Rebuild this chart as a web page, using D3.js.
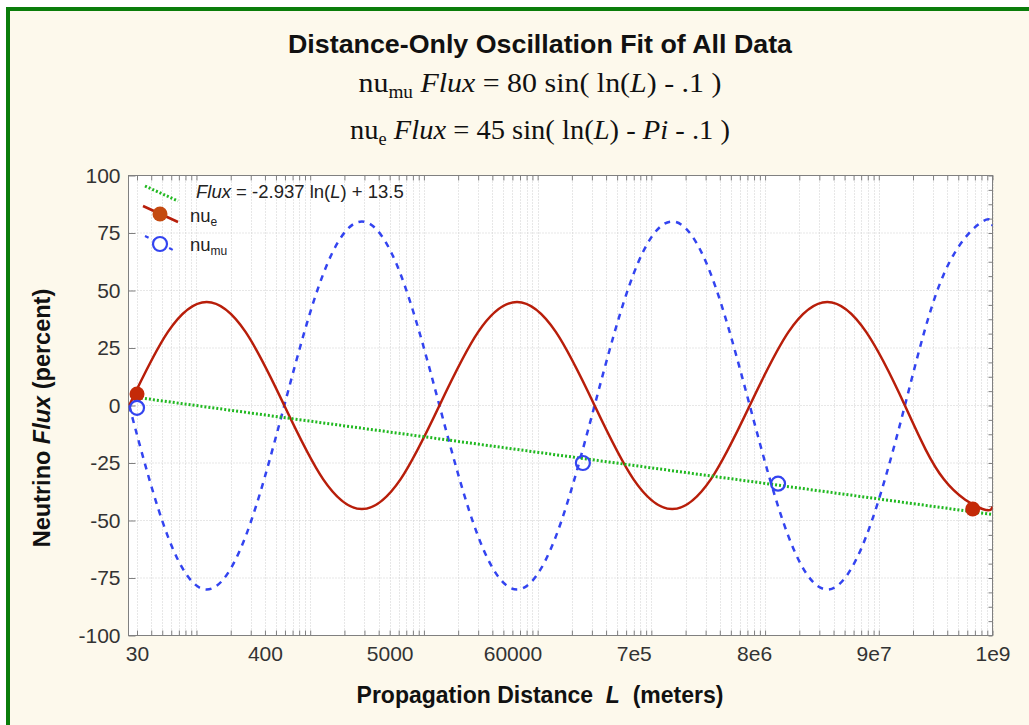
<!DOCTYPE html>
<html><head><meta charset="utf-8">
<script src="https://cdn.jsdelivr.net/npm/d3@7"></script>
<style>body{margin:0;background:#fff}</style></head><body>
<svg id="c" width="1029" height="725"></svg>
<script>
// ---- data ----
const xTickValues = [30, 400, 5000, 60000, 7e5, 8e6, 9e7, 1e9];
const xTickLabels = ["30", "400", "5000", "60000", "7e5", "8e6", "9e7", "1e9"];
const yTickValues = [-100, -75, -50, -25, 0, 25, 50, 75, 100];
// sampled fitted-curve points (distance L in meters)
const curveL = [25.6, 56.1, 123, 270, 592, 1298, 2847, 6244, 13695, 30037, 65880, 144494,
  316915, 695084, 1524510, 3343680, 7333650, 16084750, 35278000, 77375000, 169700000,
  372200000, 816300000, 1e9];
const nuMuCurve = [0, -57, -80, -57, 0, 57, 80, 57, 0, -57, -80, -57, 0, 57, 80, 57, 0, -57, -80, -57, 0, 57, 80, 78];
const nuECurve = [0, 32, 45, 32, 0, -32, -45, -32, 0, 32, 45, 32, 0, -32, -45, -32, 0, 32, 45, 32, 0, -32, -45, -44];
// measured data points
const nuEL = [30, 6.7e8];
const nuEFlux = [5, -45];
const nuMuL = [30, 2.5e5, 1.3e7];
const nuMuFlux = [-1, -25, -34];
// regression line
const fitL = [30, 1e9];
const fitFlux = [3.5, -47.4];

// ---- layout ----
const svg = d3.select("#c");
const L = 128.5, R = 992.5, T = 175.5, B = 635.5;
const cream = "#fdf9ec";
const redC = "#b81e0a", redDot = "#c42a08", blueC = "#3344f0", greenC = "#20b820";
const SANS = "Liberation Sans, Arial, sans-serif";
const NB = "\u00a0";

svg.append("rect").attr("x", 8).attr("y", 9).attr("width", 1040).attr("height", 740)
  .attr("fill", cream).attr("stroke", "#0a7d0a").attr("stroke-width", 4);

const x = d3.scaleLog().domain([25.25, 1e9]).range([L, R]);
const y = d3.scaleLinear().domain([-100, 100]).range([B, T]);

svg.append("rect").attr("x", L).attr("y", T).attr("width", R - L).attr("height", B - T).attr("fill", "#fff");

// grid
const g = svg.append("g");
g.selectAll("line.vg").data(x.ticks()).join("line")
  .attr("x1", d => Math.round(x(d)) + 0.5).attr("x2", d => Math.round(x(d)) + 0.5)
  .attr("y1", T).attr("y2", B).attr("stroke", "#cfcfcf").attr("stroke-dasharray", "1,2");
g.selectAll("line.hg").data(yTickValues.slice(1, -1)).join("line")
  .attr("y1", d => y(d)).attr("y2", d => y(d))
  .attr("x1", L).attr("x2", R).attr("stroke", "#cfcfcf").attr("stroke-dasharray", "1,2");

// axes
function clean(sel) { sel.select(".domain").remove(); sel.selectAll("line").attr("stroke", "#808080"); }
svg.append("g").attr("transform", `translate(0,${B})`)
  .call(d3.axisBottom(x).tickValues(x.ticks()).tickSize(-5).tickFormat("")).call(clean);
svg.append("g").attr("transform", `translate(0,${T})`)
  .call(d3.axisTop(x).tickValues(x.ticks()).tickSize(-5).tickFormat("")).call(clean);
const xl = svg.append("g").attr("transform", `translate(0,${B})`)
  .call(d3.axisBottom(x).tickValues(xTickValues).tickSize(0).tickPadding(11)
    .tickFormat((d, i) => xTickLabels[i])).call(clean);
xl.selectAll("text").attr("font-family", SANS).attr("font-size", 21).attr("fill", "#333");
const yl = svg.append("g").attr("transform", `translate(${L},0)`)
  .call(d3.axisLeft(y).tickValues(yTickValues).tickSize(-7).tickPadding(8).tickFormat(d => String(d))).call(clean);
yl.selectAll("text").attr("font-family", SANS).attr("font-size", 21).attr("fill", "#333");
svg.append("g").attr("transform", `translate(${R},0)`)
  .call(d3.axisRight(y).tickValues(d3.range(-100, 100.01, 6.25)).tickSize(-4).tickFormat("")).call(clean);

svg.append("rect").attr("x", L).attr("y", T).attr("width", R - L).attr("height", B - T)
  .attr("fill", "none").attr("stroke", "#808080");

// clip
svg.append("clipPath").attr("id", "cp").append("rect").attr("x", L).attr("y", T).attr("width", R - L).attr("height", B - T);
const plot = svg.append("g").attr("clip-path", "url(#cp)");

const line = d3.line().x(d => x(d[0])).y(d => y(d[1])).curve(d3.curveNatural);
plot.append("path").datum(curveL.map((l, i) => [l, nuMuCurve[i]])).attr("d", line)
  .attr("fill", "none").attr("stroke", blueC).attr("stroke-width", 2.5).attr("stroke-dasharray", "6,6");
plot.append("path").datum(curveL.map((l, i) => [l, nuECurve[i]])).attr("d", line)
  .attr("fill", "none").attr("stroke", redC).attr("stroke-width", 2.5);
plot.append("path").datum(fitL.map((l, i) => [l, fitFlux[i]])).attr("d", d3.line().x(d => x(d[0])).y(d => y(d[1])))
  .attr("fill", "none").attr("stroke", greenC).attr("stroke-width", 3).attr("stroke-dasharray", "2,2");

svg.append("g").selectAll("circle").data(nuEL.map((l, i) => [l, nuEFlux[i]])).join("circle")
  .attr("cx", d => x(d[0])).attr("cy", d => y(d[1])).attr("r", 7.5).attr("fill", redDot);
svg.append("g").selectAll("circle").data(nuMuL.map((l, i) => [l, nuMuFlux[i]])).join("circle")
  .attr("cx", d => x(d[0])).attr("cy", d => y(d[1])).attr("r", 7).attr("fill", "none")
  .attr("stroke", blueC).attr("stroke-width", 2.2);

// legend
const lg = svg.append("g").attr("font-family", SANS).attr("fill", "#222");
lg.append("line").attr("x1", 145).attr("y1", 186).attr("x2", 178).attr("y2", 201)
  .attr("stroke", greenC).attr("stroke-width", 3).attr("stroke-dasharray", "2,2");
const t1 = lg.append("text").attr("x", 196).attr("y", 198).attr("font-size", 18.5);
t1.append("tspan").attr("font-style", "italic").text("Flux");
t1.append("tspan").text(" = -2.937 ln(");
t1.append("tspan").attr("font-style", "italic").text("L");
t1.append("tspan").text(") + 13.5");
lg.append("line").attr("x1", 143).attr("y1", 206).attr("x2", 178).attr("y2", 222).attr("stroke", redC).attr("stroke-width", 2.5);
lg.append("circle").attr("cx", 160).attr("cy", 214).attr("r", 7.5).attr("fill", "#c44a10");
const t2 = lg.append("text").attr("x", 190).attr("y", 222).attr("font-size", 18.5);
t2.append("tspan").text("nu");
t2.append("tspan").attr("font-size", 12).attr("dy", 4).text("e");
lg.append("line").attr("x1", 145).attr("y1", 236).attr("x2", 177).attr("y2", 252)
  .attr("stroke", blueC).attr("stroke-width", 2.2).attr("stroke-dasharray", "4,5");
lg.append("circle").attr("cx", 160).attr("cy", 244).attr("r", 7).attr("fill", "#fff").attr("stroke", blueC).attr("stroke-width", 2.2);
const t3 = lg.append("text").attr("x", 190).attr("y", 251).attr("font-size", 18.5);
t3.append("tspan").text("nu");
t3.append("tspan").attr("font-size", 12).attr("dy", 4).text("mu");

// titles
svg.append("text").attr("x", 540).attr("y", 53).attr("text-anchor", "middle")
  .attr("font-family", SANS).attr("font-weight", "bold")
  .attr("font-size", 26).attr("textLength", 504).attr("lengthAdjust", "spacingAndGlyphs")
  .attr("fill", "#111").text("Distance-Only Oscillation Fit of All Data");
function formula(yy, width, parts) {
  const t = svg.append("text").attr("x", 540).attr("y", yy).attr("text-anchor", "middle")
    .attr("font-family", "Liberation Serif, Times New Roman, serif").attr("font-size", 28).attr("fill", "#111")
    .attr("textLength", width).attr("lengthAdjust", "spacingAndGlyphs");
  parts.forEach(p => {
    const s = t.append("tspan").text(p[0]);
    if (p[1] === "i") s.attr("font-style", "italic");
    if (p[1] === "sub") s.attr("font-size", 18).attr("dy", 6);
    if (p[2]) s.attr("dy", p[2]);
  });
}
formula(92, 363, [["nu"], ["mu", "sub"], [NB], ["Flux", "i", -6], [" = 80 sin( ln("], ["L", "i"], [") - .1 )"]]);
formula(139, 380, [["nu"], ["e", "sub"], [NB], ["Flux", "i", -6], [" = 45 sin( ln("], ["L", "i"], [") - "], ["Pi", "i"], [" - .1 )"]]);

// axis titles
const xt = svg.append("text").attr("x", 540).attr("y", 703).attr("text-anchor", "middle")
  .attr("font-family", SANS).attr("font-weight", "bold").attr("font-size", 23).attr("fill", "#111");
xt.append("tspan").text("Propagation Distance" + NB + NB);
xt.append("tspan").attr("font-style", "italic").text("L");
xt.append("tspan").text(NB + NB + "(meters)");
const yt = svg.append("text").attr("transform", "translate(50,418) rotate(-90)").attr("text-anchor", "middle")
  .attr("font-family", SANS).attr("font-weight", "bold").attr("font-size", 23.5).attr("fill", "#111");
yt.append("tspan").text("Neutrino ");
yt.append("tspan").attr("font-style", "italic").text("Flux");
yt.append("tspan").text(" (percent)");
</script></body></html>
